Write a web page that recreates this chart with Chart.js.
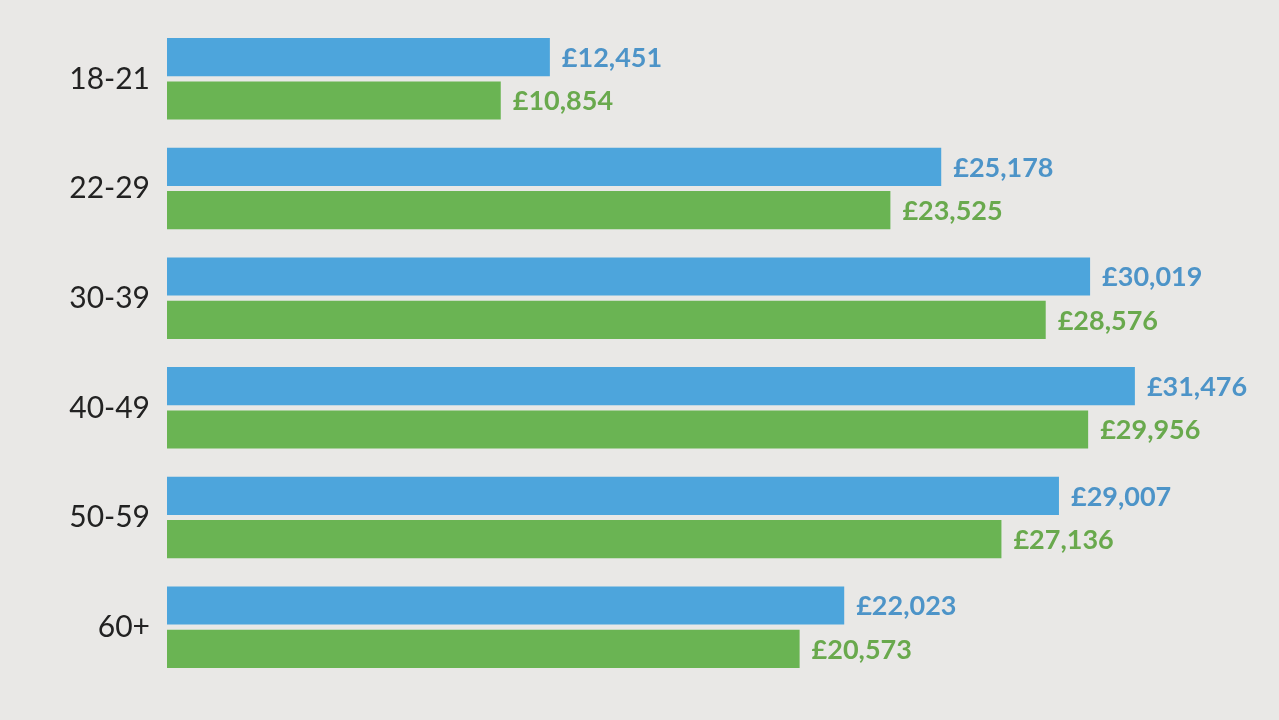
<!DOCTYPE html>
<html>
<head>
<meta charset="utf-8">
<script src="https://cdn.jsdelivr.net/npm/chart.js@4"></script>
<style>
  html, body { margin: 0; padding: 0; background: #e9e8e6; }
  #wrap { width: 1279px; height: 720px; }
</style>
</head>
<body>
<div id="wrap"><canvas id="salaryChart" width="1279" height="720"></canvas></div>
<script>
var ageGroups = ['18-21', '22-29', '30-39', '40-49', '50-59', '60+'];
var blueValues = [12451, 25178, 30019, 31476, 29007, 22023];
var greenValues = [10854, 23525, 28576, 29956, 27136, 20573];

var barColors = ['#4da5dc', '#6ab453'];
var textColors = ['#4d94c8', '#69a94d'];

// writes the £ value just past the end of each bar
var valueLabels = {
    id: 'valueLabels',
    afterDatasetsDraw: function(chart) {
        var ctx = chart.ctx;
        ctx.save();
        ctx.font = 'bold 27px Lato';
        ctx.textAlign = 'left';
        ctx.textBaseline = 'middle';
        chart.data.datasets.forEach(function(ds, i) {
            var meta = chart.getDatasetMeta(i);
            ctx.fillStyle = textColors[i];
            meta.data.forEach(function(bar, j) {
                var txt = '£' + ds.data[j].toLocaleString('en-GB');
                ctx.fillText(txt, bar.x + 12, bar.y + 1);
            });
        });
        ctx.restore();
    }
};

var ctx = document.getElementById('salaryChart').getContext('2d');
var myChart = new Chart(ctx, {
    type: 'bar',
    data: {
        labels: ageGroups,
        datasets: [{
            label: 'Blue',
            data: blueValues,
            backgroundColor: barColors[0],
            borderWidth: 0
        }, {
            label: 'Green',
            data: greenValues,
            backgroundColor: barColors[1],
            borderWidth: 0
        }]
    },
    options: {
        indexAxis: 'y',
        responsive: false,
        animation: false,
        categoryPercentage: 0.79,
        barPercentage: 0.88,
        layout: {
            padding: { top: 24, bottom: 38, left: 0, right: 5 }
        },
        plugins: {
            legend: { display: false },
            tooltip: { enabled: false }
        },
        scales: {
            x: {
                min: 0,
                max: 36000,
                display: false
            },
            y: {
                afterFit: function(scale) {
                    scale.width = 167;
                    // tick padding otherwise pushes the plot area down
                    scale.paddingTop = 0;
                    scale.paddingBottom = 0;
                },
                grid: { display: false, drawTicks: false },
                border: { display: false },
                ticks: {
                    color: '#222222',
                    padding: 17,
                    font: { family: 'Lato', size: 30 }
                }
            }
        }
    },
    plugins: [valueLabels]
});
</script>
</body>
</html>
